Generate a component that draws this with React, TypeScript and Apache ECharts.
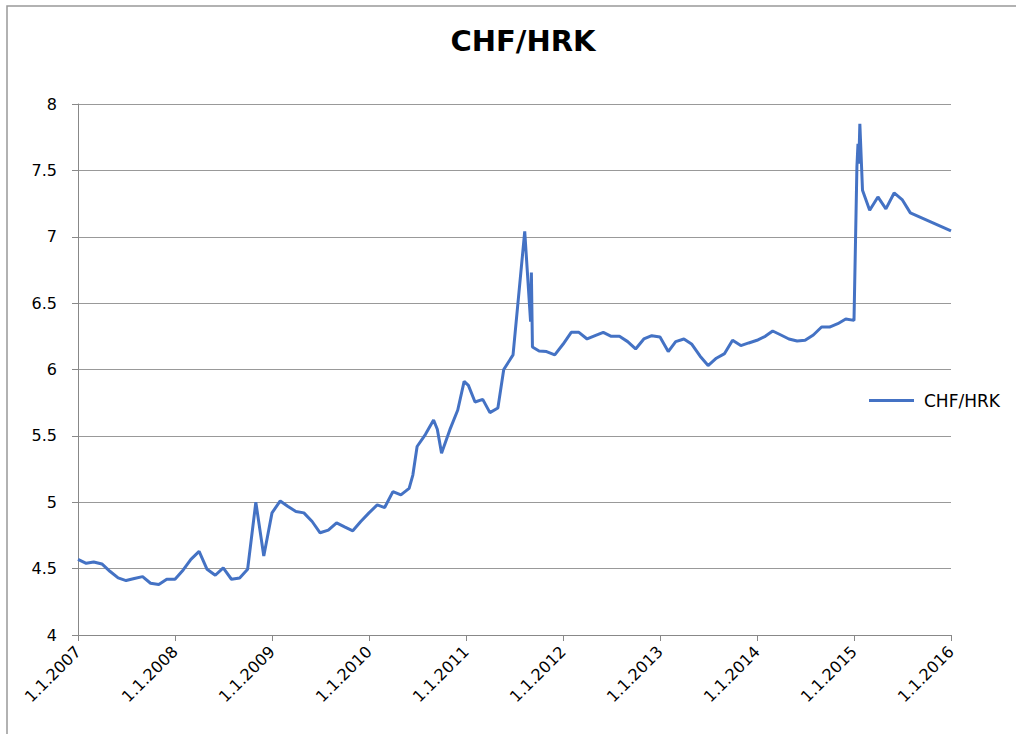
import React, { useEffect, useRef } from "react";
import * as echarts from "echarts";

const seriesName = "CHF/HRK";
const titleText = "CHF/HRK";

const dates: string[] = [
  "2007-01-01","2007-02-01","2007-03-01","2007-04-01","2007-05-01","2007-06-01","2007-07-01","2007-08-01","2007-09-01","2007-10-01","2007-11-01","2007-12-01",
  "2008-01-01","2008-02-01","2008-03-01","2008-04-01","2008-05-01","2008-06-01","2008-07-01","2008-08-01","2008-09-01","2008-10-01","2008-11-01","2008-12-01",
  "2009-01-01","2009-02-01","2009-03-01","2009-04-01","2009-05-01","2009-06-01","2009-07-01","2009-08-01","2009-09-01","2009-10-01","2009-11-01","2009-12-01",
  "2010-01-01","2010-02-01","2010-03-01","2010-04-01","2010-05-01","2010-06-01","2010-06-15","2010-07-01","2010-08-01","2010-09-01","2010-09-15","2010-10-01","2010-11-01","2010-12-01","2010-12-25",
  "2011-01-10","2011-02-04","2011-03-05","2011-04-01","2011-05-01","2011-05-23","2011-06-27","2011-08-10","2011-09-01","2011-09-04","2011-09-08","2011-10-03","2011-10-31","2011-12-01",
  "2012-01-01","2012-02-01","2012-03-01","2012-04-01","2012-05-01","2012-06-01","2012-07-01","2012-08-01","2012-09-01","2012-10-01","2012-11-01","2012-12-01",
  "2013-01-01","2013-02-01","2013-03-01","2013-04-01","2013-05-01","2013-06-01","2013-07-01","2013-08-01","2013-09-01","2013-10-01","2013-11-01","2013-12-01",
  "2014-01-01","2014-02-01","2014-03-01","2014-04-01","2014-05-01","2014-06-01","2014-07-01","2014-08-01","2014-09-01","2014-10-01","2014-11-01","2014-12-01",
  "2015-01-01","2015-01-12","2015-01-16","2015-01-19","2015-01-23","2015-02-02","2015-03-01","2015-04-01","2015-05-01","2015-06-01","2015-07-01","2015-08-01",
  "2016-01-01",
];

const rates: number[] = [
  4.57, 4.54, 4.55, 4.535, 4.48, 4.43, 4.41, 4.425, 4.44, 4.39, 4.38, 4.42,
  4.42, 4.49, 4.57, 4.63, 4.495, 4.45, 4.505, 4.42, 4.43, 4.495, 5.0, 4.595,
  4.92, 5.01, 4.97, 4.93, 4.92, 4.855, 4.77, 4.79, 4.845, 4.815, 4.785, 4.855,
  4.92, 4.98, 4.96, 5.08, 5.055, 5.105, 5.205, 5.42, 5.51, 5.62, 5.55, 5.37, 5.545, 5.695, 5.91,
  5.88, 5.755, 5.775, 5.675, 5.71, 6.0, 6.11, 7.04, 6.36, 6.73, 6.17, 6.14, 6.135, 6.11,
  6.19, 6.28, 6.28, 6.23, 6.255, 6.28, 6.25, 6.25, 6.21, 6.155, 6.23, 6.255,
  6.245, 6.135, 6.21, 6.23, 6.19, 6.1, 6.03, 6.085, 6.12, 6.22, 6.18, 6.2,
  6.22, 6.25, 6.29, 6.26, 6.23, 6.215, 6.22, 6.26, 6.32, 6.32, 6.345, 6.38,
  6.37, 7.53, 7.7, 7.55, 7.85, 7.35, 7.2, 7.3, 7.21, 7.33, 7.28, 7.18,
  7.045,
];

const yearTicks: number[] = [2007, 2008, 2009, 2010, 2011, 2012, 2013, 2014, 2015, 2016];

function toYearFraction(s: string): number {
  const [y, m, d] = s.split("-").map(Number);
  const start = Date.UTC(y, 0, 1);
  const end = Date.UTC(y + 1, 0, 1);
  return y + (Date.UTC(y, m - 1, d) - start) / (end - start);
}

export default function App() {
  const ref = useRef<HTMLDivElement>(null);
  useEffect(() => {
    document.body.style.margin = "0";
    if (!ref.current) return;
    const chart = echarts.init(ref.current, undefined, { renderer: "svg" });
    const data = dates.map((d, i) => [toYearFraction(d), rates[i]]);
    const font = "DejaVu Sans";
    chart.setOption({
      animation: false,
      backgroundColor: "#ffffff",
      title: {
        text: titleText,
        left: 518,
        top: 21,
        textAlign: "center",
        textStyle: { fontFamily: font, fontWeight: "bold", fontSize: 29, color: "#000" },
      },
      graphic: [
        {
          type: "rect",
          shape: { x: 7, y: 6, width: 1200, height: 900 },
          style: { fill: "none", stroke: "#999", lineWidth: 1.5 },
          silent: true,
        },
      ],
      legend: {
        orient: "vertical",
        left: 864,
        top: 387,
        icon: "rect",
        itemWidth: 45,
        itemHeight: 3,
        itemGap: 10,
        data: [seriesName],
        textStyle: { fontFamily: font, fontSize: 17, color: "#000", padding: [0, 0, 0, 5] },
      },
      grid: { left: 78, right: 65, top: 104, bottom: 99, containLabel: false },
      xAxis: {
        type: "value",
        min: yearTicks[0],
        max: yearTicks[yearTicks.length - 1],
        interval: 1,
        axisLine: { show: true, lineStyle: { color: "#888", width: 1 } },
        axisTick: { show: true, length: 6, lineStyle: { color: "#888" } },
        splitLine: { show: false },
        axisLabel: {
          rotate: 45,
          margin: 14,
          fontFamily: font,
          fontSize: 16,
          color: "#000",
          formatter: (v: number) => "1.1." + Math.round(v),
        },
      },
      yAxis: {
        type: "value",
        min: 4,
        max: 8,
        interval: 0.5,
        axisLine: { show: true, lineStyle: { color: "#888", width: 1 } },
        axisTick: { show: true, length: 6, lineStyle: { color: "#888" } },
        splitLine: { show: true, lineStyle: { color: "#999", width: 1 } },
        axisLabel: {
          margin: 21,
          fontFamily: font,
          fontSize: 16,
          color: "#000",
          formatter: (v: number) => String(v),
        },
      },
      series: [
        {
          name: seriesName,
          type: "line",
          data,
          showSymbol: false,
          symbol: "none",
          smooth: false,
          lineStyle: { color: "#4472C4", width: 3 },
          itemStyle: { color: "#4472C4" },
        },
      ],
    });
    return () => chart.dispose();
  }, []);
  return <div ref={ref} style={{ width: 1016, height: 734 }} />;
}
